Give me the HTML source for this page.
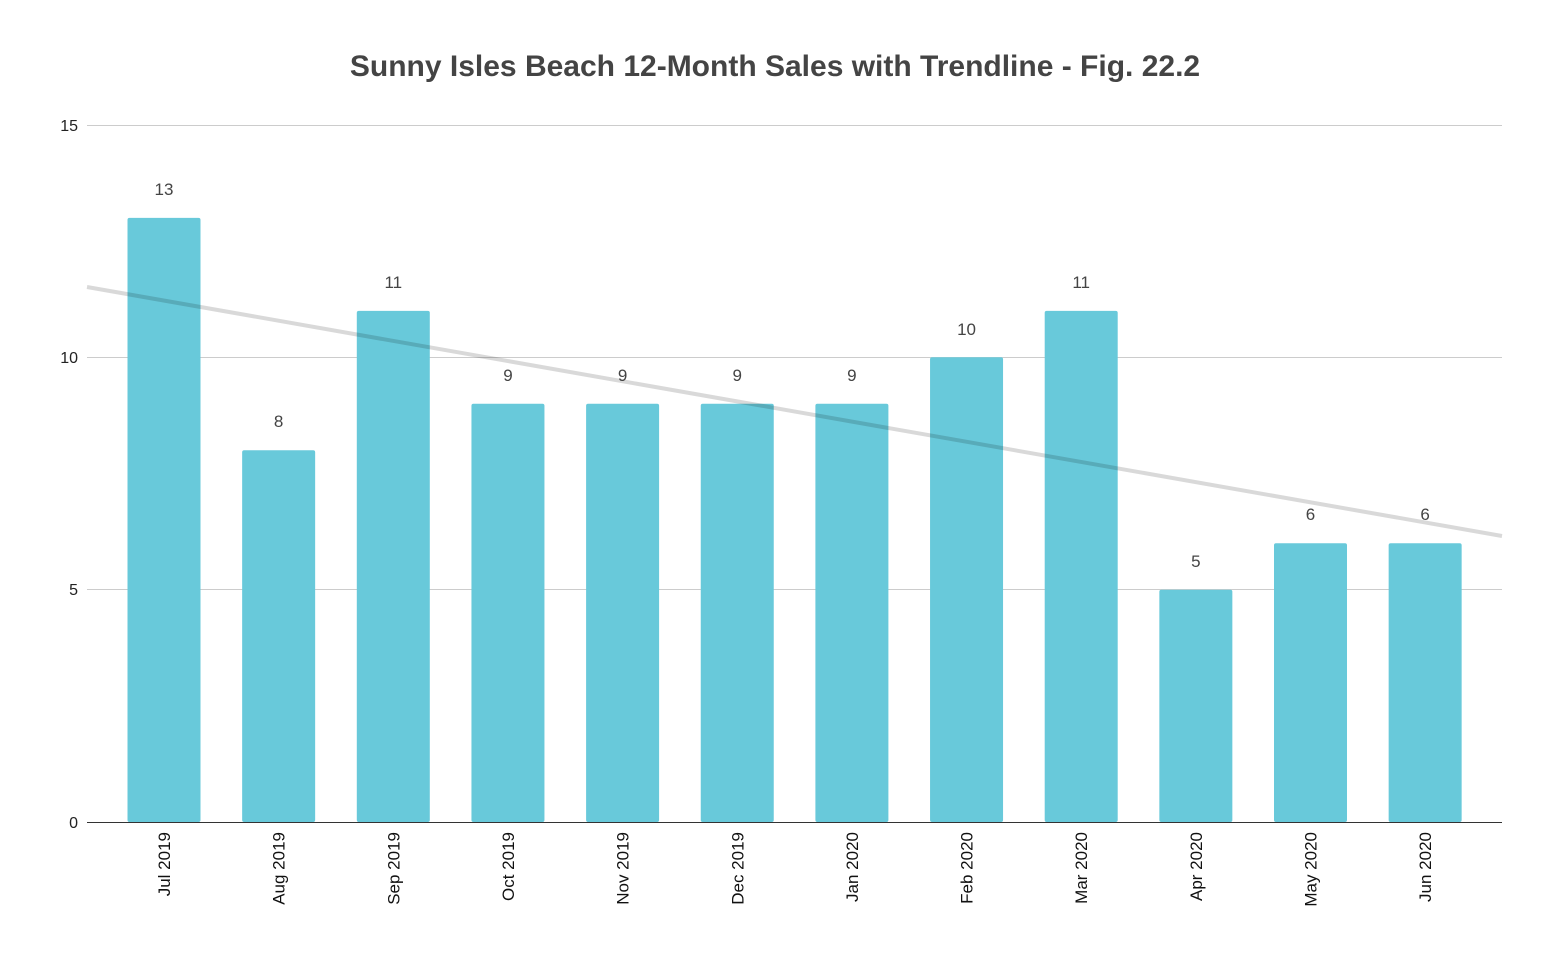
<!DOCTYPE html>
<html><head><meta charset="utf-8"><style>html,body{margin:0;padding:0;background:#fff}svg{display:block}</style></head>
<body>
<svg width="1550" height="958" xmlns="http://www.w3.org/2000/svg" font-family="Liberation Sans, Arial, sans-serif">
<rect width="1550" height="958" fill="#fff"/>
<text x="775" y="76" text-anchor="middle" font-size="30" font-weight="bold" fill="#444">Sunny Isles Beach 12-Month Sales with Trendline - Fig. 22.2</text>
<g stroke="#cccccc" stroke-width="1">
<line x1="87" y1="125.5" x2="1502" y2="125.5"/>
<line x1="87" y1="357.5" x2="1502" y2="357.5"/>
<line x1="87" y1="589.5" x2="1502" y2="589.5"/>
</g>
<g font-size="16" fill="#222" text-anchor="end">
<text x="78" y="131">15</text>
<text x="78" y="363">10</text>
<text x="78" y="595">5</text>
<text x="78" y="828">0</text>
</g>
<g fill="#68c9da">
<rect x="127.5" y="217.9" width="73" height="604.1" rx="2"/>
<rect x="242.15" y="450.3" width="73" height="371.7" rx="2"/>
<rect x="356.8" y="310.9" width="73" height="511.1" rx="2"/>
<rect x="471.45" y="403.8" width="73" height="418.2" rx="2"/>
<rect x="586.1" y="403.8" width="73" height="418.2" rx="2"/>
<rect x="700.75" y="403.8" width="73" height="418.2" rx="2"/>
<rect x="815.4" y="403.8" width="73" height="418.2" rx="2"/>
<rect x="930.05" y="357.3" width="73" height="464.7" rx="2"/>
<rect x="1044.7" y="310.9" width="73" height="511.1" rx="2"/>
<rect x="1159.35" y="589.7" width="73" height="232.3" rx="2"/>
<rect x="1274" y="543.2" width="73" height="278.8" rx="2"/>
<rect x="1388.65" y="543.2" width="73" height="278.8" rx="2"/>
</g>
<line x1="87" y1="822.5" x2="1502" y2="822.5" stroke="#333" stroke-width="1"/>
<line x1="87" y1="287" x2="1502" y2="536" stroke="#000" stroke-opacity="0.15" stroke-width="4"/>
<g font-size="17" fill="#444" text-anchor="middle">
<text x="164" y="195">13</text>
<text x="278.65" y="427">8</text>
<text x="393.3" y="288">11</text>
<text x="507.95" y="381">9</text>
<text x="622.6" y="381">9</text>
<text x="737.25" y="381">9</text>
<text x="851.9" y="381">9</text>
<text x="966.55" y="335">10</text>
<text x="1081.2" y="288">11</text>
<text x="1195.85" y="567">5</text>
<text x="1310.5" y="520">6</text>
<text x="1425.15" y="520">6</text>
</g>
<g font-size="17" fill="#111" text-anchor="end">
<text transform="translate(170,832) rotate(-90)">Jul 2019</text>
<text transform="translate(284.65,832) rotate(-90)">Aug 2019</text>
<text transform="translate(399.3,832) rotate(-90)">Sep 2019</text>
<text transform="translate(513.95,832) rotate(-90)">Oct 2019</text>
<text transform="translate(628.6,832) rotate(-90)">Nov 2019</text>
<text transform="translate(743.25,832) rotate(-90)">Dec 2019</text>
<text transform="translate(857.9,832) rotate(-90)">Jan 2020</text>
<text transform="translate(972.55,832) rotate(-90)">Feb 2020</text>
<text transform="translate(1087.2,832) rotate(-90)">Mar 2020</text>
<text transform="translate(1201.85,832) rotate(-90)">Apr 2020</text>
<text transform="translate(1316.5,832) rotate(-90)">May 2020</text>
<text transform="translate(1431.15,832) rotate(-90)">Jun 2020</text>
</g>
</svg>
</body></html>
